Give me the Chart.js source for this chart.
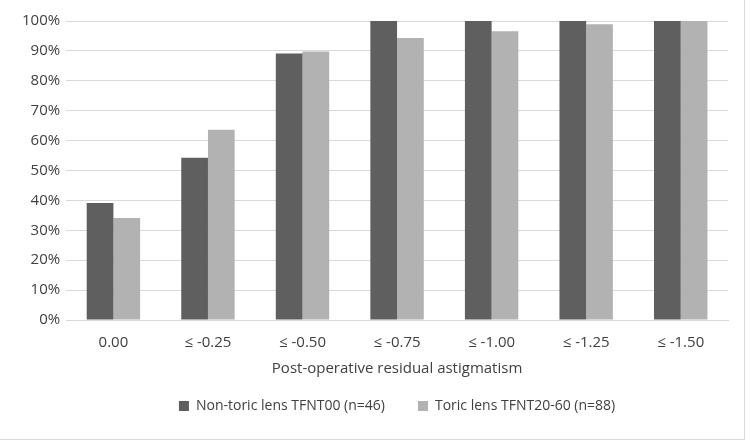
<!DOCTYPE html>
<html>
<head>
<meta charset="utf-8">
<script src="https://cdn.jsdelivr.net/npm/chart.js@4"></script>
<style>
    html, body { margin: 0; padding: 0; background: #fff; }
    #wrap {
        position: absolute; left: 0; top: 0;
        width: 744px; height: 439px;
        border-right: 1px solid #d9d9d9;
        border-bottom: 1px solid #d9d9d9;
    }
</style>
</head>
<body>
<div id="wrap"><canvas id="astigChart" width="744" height="439"></canvas></div>
<script>
// ====== DATA ======
const categories = ['0.00', '≤ -0.25', '≤ -0.50', '≤ -0.75', '≤ -1.00', '≤ -1.25', '≤ -1.50']
const nonToric = [39.1, 54.3, 89.1, 100, 100, 100, 100]
const toric = [34.1, 63.6, 89.8, 94.3, 96.6, 98.9, 100]
const seriesNames = ['Non-toric lens TFNT00 (n=46)', 'Toric lens TFNT20-60 (n=88)']
const axisTitle = 'Post-operative residual astigmatism'

const fontFamily = '"Open Sans", "Noto Sans", sans-serif'

const ctx = document.getElementById('astigChart').getContext('2d')
new Chart(ctx, {
    type: 'bar',
    data: {
        labels: categories,
        datasets: [
            {
                label: seriesNames[0],
                data: nonToric,
                backgroundColor: '#5f5f5f',
                borderWidth: 0,
            },
            {
                label: seriesNames[1],
                data: toric,
                backgroundColor: '#b2b2b2',
                borderWidth: 0,
            },
        ],
    },
    options: {
        responsive: false,
        animation: false,
        layout: { padding: { left: 16, right: 16, top: 21, bottom: 16 } },
        datasets: {
            bar: { categoryPercentage: 0.565, barPercentage: 1.0 },
        },
        scales: {
            x: {
                grid: { display: false },
                border: { color: '#d9d9d9' },
                ticks: {
                    color: '#404040',
                    font: { family: fontFamily, size: 15 },
                    padding: 6,
                },
                title: {
                    display: true,
                    text: axisTitle,
                    color: '#404040',
                    font: { family: fontFamily, size: 15 },
                    // negative bottom pulls the legend up under the title
                    padding: { top: 2, bottom: -12 },
                },
            },
            y: {
                min: 0,
                max: 100,
                border: { display: false },
                grid: {
                    color: (c) => (c.tick && c.tick.value % 10 === 0 ? '#d9d9d9' : '#f0f0f0'),
                    lineWidth: 1,
                    drawTicks: false,
                },
                ticks: {
                    stepSize: 5,
                    color: '#404040',
                    font: { family: fontFamily, size: 15 },
                    padding: 6,
                    callback: (v) => (v % 10 === 0 ? v + '%' : ''),
                },
            },
        },
        plugins: {
            legend: {
                position: 'bottom',
                fullSize: false,
                labels: {
                    color: '#404040',
                    font: { family: fontFamily, size: 14 },
                    boxWidth: 10,
                    boxHeight: 10,
                    padding: 33,
                },
            },
            tooltip: { enabled: false },
        },
    },
})
</script>
</body>
</html>
